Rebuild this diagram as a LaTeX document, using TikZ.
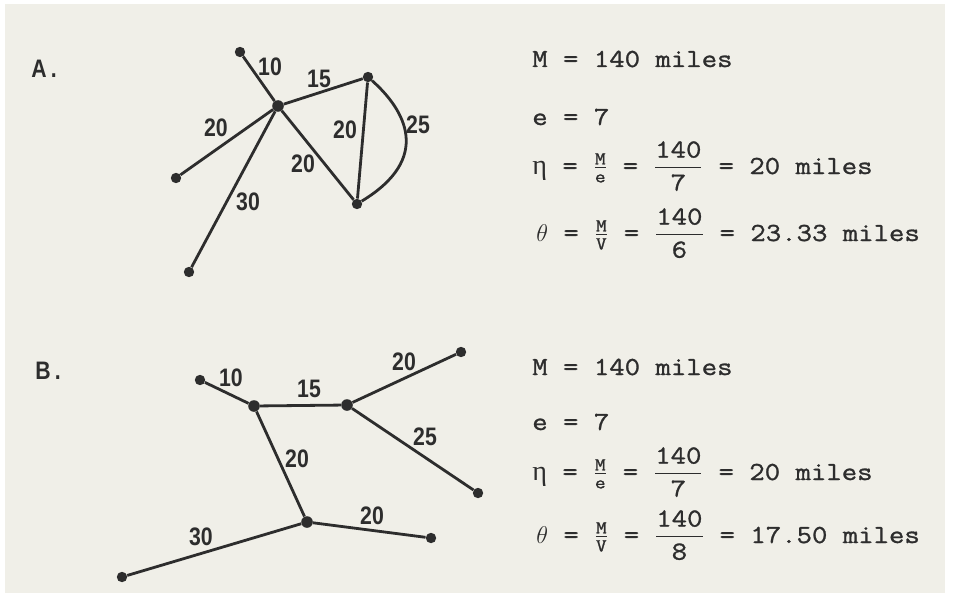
\documentclass[tikz,border=0pt]{standalone}
\usepackage{amsmath}
\usepackage{fontspec}
\setmonofont{Latin Modern Mono}[FakeStretch=1.15,FakeBold=1.1]
\newfontfamily\wtfont[FakeStretch=0.84]{Liberation Sans}
\newfontfamily\grkfont{Liberation Serif}
\usepackage{tikz}
\usetikzlibrary{calc,positioning}
\definecolor{paper}{RGB}{240,239,232}
\definecolor{ink}{RGB}{45,45,45}
\tikzset{
	vtx/.style={circle,fill=ink,inner sep=0pt,minimum size=2.6mm},
	hubvtx/.style={vtx,minimum size=2.9mm},
	edge/.style={draw=ink,line width=0.7mm},
	wt/.style={font=\wtfont\bfseries\fontsize{18}{18}\selectfont,text=ink,inner sep=0pt},
	eqn/.style={font=\ttfamily\fontsize{18.5}{20}\selectfont,text=ink,anchor=base west,inner sep=0pt},
}
\newcommand{\tw}[1]{\text{\ttfamily #1}}
\newcommand{\etasym}{{\grkfont\fontsize{20}{20}\selectfont η}}

\begin{document}
\begin{tikzpicture}
				%\draw[color=gray,step=1mm, help lines,opacity=0.3] (0pt,0pt) grid (239mm,149mm); %help grids
				\fill[white] (0mm,0mm) rectangle (238.75mm,148.25mm);
				\fill[paper] (1.25mm,0mm) rectangle (236.25mm,147.25mm);
				\useasboundingbox (0mm,0mm) rectangle (238.75mm,148.25mm);

				% A
				\node[wt] (labA) at (11mm,131mm) {A\,.};
				\node[hubvtx] (hA) at (69.5mm,121.75mm) {};
				\node[vtx] (tA) at (60mm,135.25mm) {};
				\node[vtx] (rA) at (92mm,129mm) {};
				\node[vtx] (bA) at (89.25mm,97.25mm) {};
				\node[vtx] (lA) at (44mm,103.75mm) {};
				\node[vtx] (sA) at (47.25mm,80.25mm) {};

				\draw[edge] (hA) -- (tA);
				\draw[edge] (hA) -- (rA);
				\draw[edge] (hA) -- (lA);
				\draw[edge] (hA) -- (sA);
				\draw[edge] (hA) -- (bA);
				\draw[edge] (rA) -- (bA);
				\draw[edge] (rA).. controls (101.25mm,120.75mm) and (108.25mm,108.75mm) .. (bA);

				\node[wt] (wA1) at (67.5mm,131.5mm) {10};
				\node[wt] (wA2) at (79.75mm,128.5mm) {15};
				\node[wt] (wA3) at (54mm,116.25mm) {20};
				\node[wt] (wA4) at (75.75mm,107.25mm) {20};
				\node[wt] (wA5) at (86.25mm,115.75mm) {20};
				\node[wt] (wA6) at (104.5mm,117mm) {25};
				\node[wt] (wA7) at (62mm,97.75mm) {30};

				\node[eqn] (mA) at (133mm,131.5mm) {M = 140 miles};
				\node[eqn] (eA) at (133mm,117mm) {e = 7};
				\node[eqn] (nA) at (133mm,104.75mm) {\etasym{} = $\tfrac{\tw{M}}{\tw{e}}$ = $\dfrac{\tw{140}}{\tw{7}}$ = 20 miles};
				\node[eqn] (qA) at (134mm,88mm) {$\theta$ = $\tfrac{\tw{M}}{\tw{V}}$ = $\dfrac{\tw{140}}{\tw{6}}$ = 23.33 miles};

				% B
				\node[wt] (labB) at (12mm,55.5mm) {B\,.};
				\node[vtx] (tB) at (50mm,53.25mm) {};
				\node[hubvtx] (aB) at (63.5mm,46.75mm) {};
				\node[hubvtx] (bB) at (86.75mm,47mm) {};
				\node[vtx] (uB) at (115.25mm,60.25mm) {};
				\node[vtx] (rB) at (119.5mm,25mm) {};
				\node[hubvtx] (cB) at (76.75mm,17.75mm) {};
				\node[vtx] (dB) at (107.75mm,13.75mm) {};
				\node[vtx] (sB) at (30.5mm,4mm) {};

				\draw[edge] (tB) -- (aB);
				\draw[edge] (aB) -- (bB);
				\draw[edge] (bB) -- (uB);
				\draw[edge] (bB) -- (rB);
				\draw[edge] (aB) -- (cB);
				\draw[edge] (cB) -- (dB);
				\draw[edge] (cB) -- (sB);

				\node[wt] (wB1) at (57.75mm,53.75mm) {10};
				\node[wt] (wB2) at (77.25mm,51mm) {15};
				\node[wt] (wB3) at (101mm,57.75mm) {20};
				\node[wt] (wB4) at (106.25mm,39mm) {25};
				\node[wt] (wB5) at (74.25mm,33.5mm) {20};
				\node[wt] (wB6) at (93mm,19.25mm) {20};
				\node[wt] (wB7) at (50.25mm,14mm) {30};

				\node[eqn] (mB) at (133mm,54.5mm) {M = 140 miles};
				\node[eqn] (eB) at (133mm,40.75mm) {e = 7};
				\node[eqn] (nB) at (133mm,28.25mm) {\etasym{} = $\tfrac{\tw{M}}{\tw{e}}$ = $\dfrac{\tw{140}}{\tw{7}}$ = 20 miles};
				\node[eqn] (qB) at (134mm,12.5mm) {$\theta$ = $\tfrac{\tw{M}}{\tw{V}}$ = $\dfrac{\tw{140}}{\tw{8}}$ = 17.50 miles};
\end{tikzpicture}
\end{document}
